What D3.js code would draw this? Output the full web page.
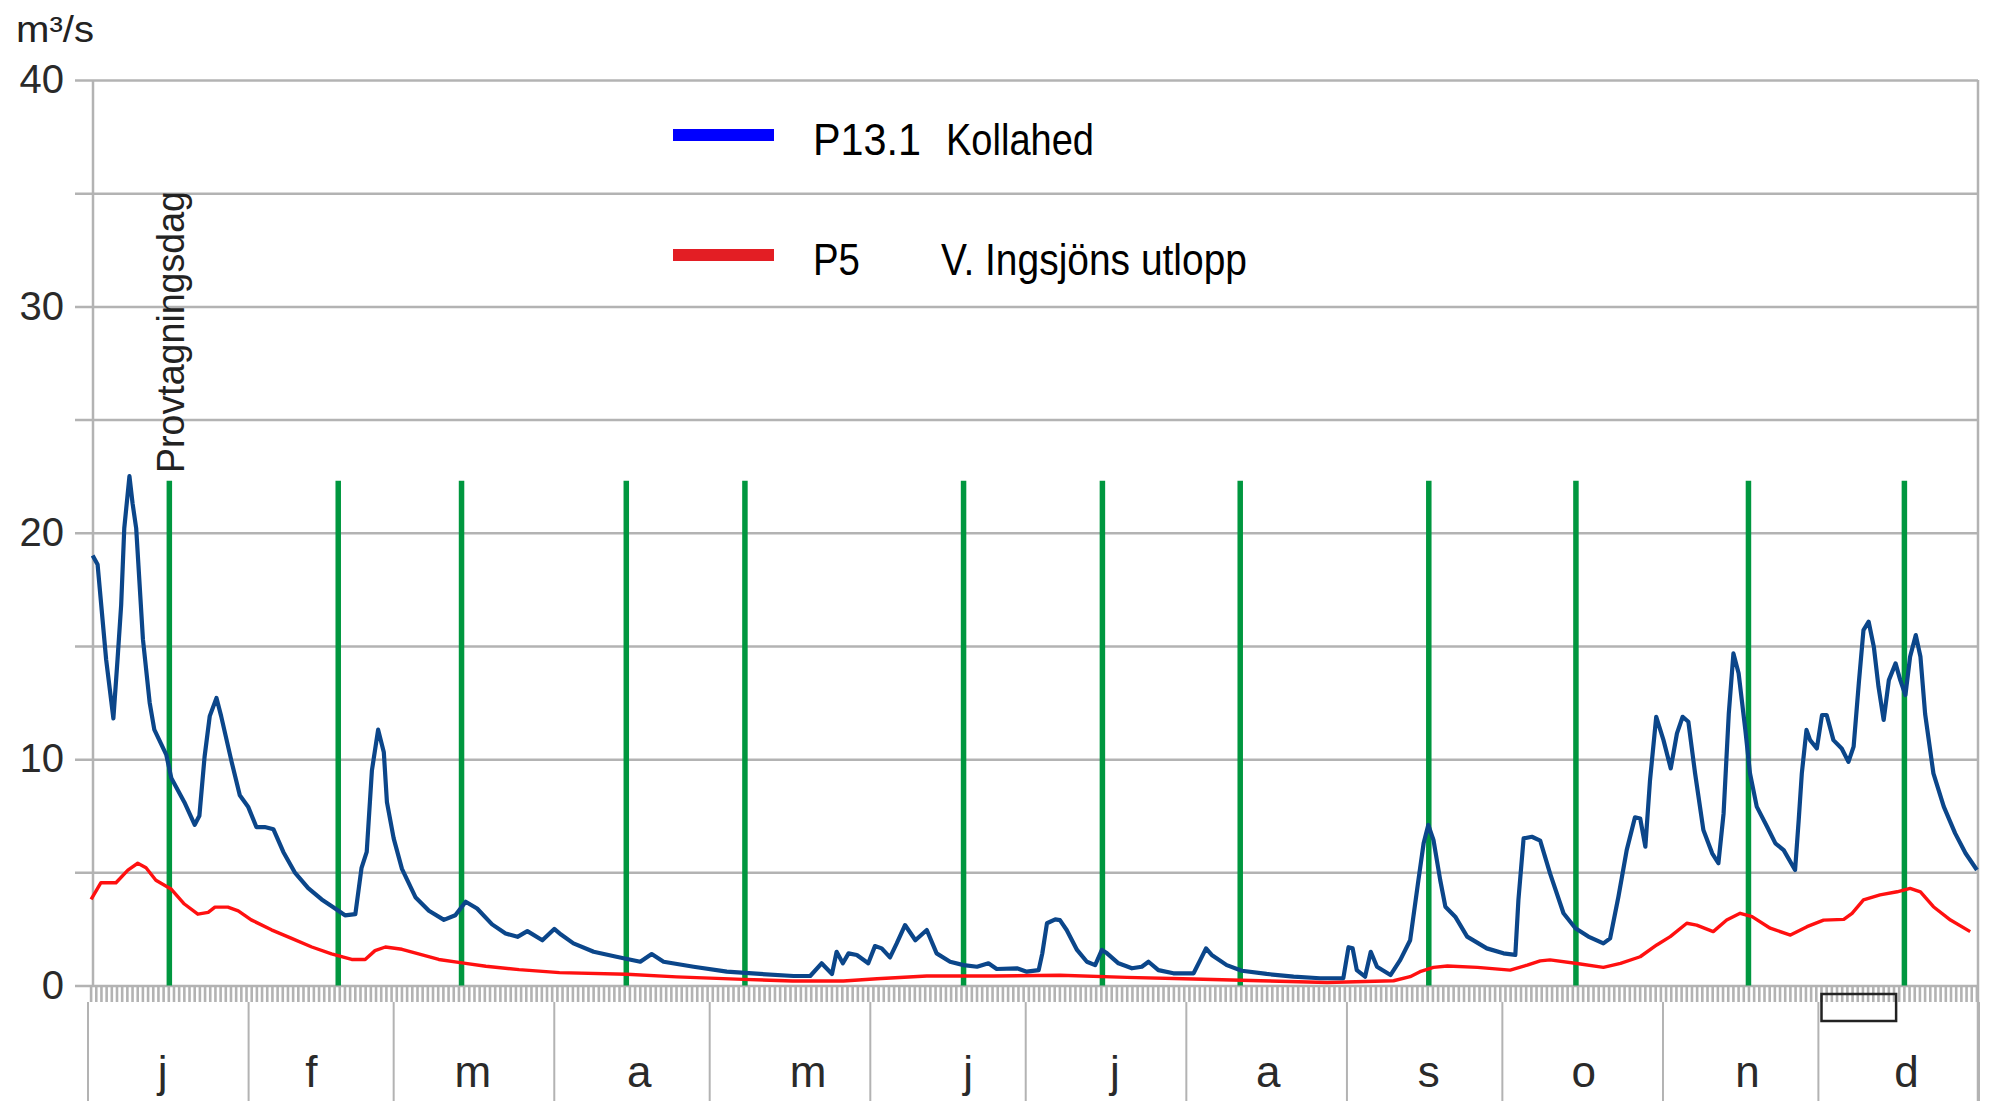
<!DOCTYPE html>
<html><head><meta charset="utf-8">
<script src="https://cdn.jsdelivr.net/npm/d3@7"></script>
<style>html,body{margin:0;padding:0;background:#fff;} svg{display:block;}</style>
</head><body>
<svg id="chart" width="1993" height="1101"></svg>
<script>
// ---------------- data ----------------
const months = ["j","f","m","a","m","j","j","a","s","o","n","d"];
const monthStartDays = [0,31,59,90,120,151,181,212,243,273,304,334,365];
const monthLabelDays = [14.4,43.1,74.3,106.4,139.0,169.9,198.2,227.8,258.8,288.7,320.3,351.0];
const yTicks = [0,5,10,15,20,25,30,35,40];
const yLabels = [0,10,20,30,40];
const unitLabel = "m³/s";
const samplingLabel = "Provtagningsdag";
const samplingDays = [15.7,48.3,72.1,103.9,126.8,169,195.8,222.4,258.8,287.2,320.5,350.6];
const samplingTop = 22.3;
const markerBoxDays = [334.6, 349];
const seriesCodes = ["P13.1","P5"];
const seriesPlaces = ["Kollahed","V. Ingsjöns utlopp"];

// P13.1 Kollahed, [day of year, m3/s]
const kollahedFlow = [
[0.9,19.0],[1.85,18.6],[3.5,14.4],[4.9,11.8],[5.7,14.4],[6.4,16.8],[7.0,20.2],[8.0,22.5],[8.6,21.3],[9.3,20.2],
[10.6,15.3],[11.9,12.5],[12.8,11.3],[15.1,10.2],[16.1,9.15],[18.6,8.1],[20.6,7.1],[21.5,7.5],[22.5,10.1],[23.5,11.9],
[24.8,12.7],[25.7,11.9],[27.7,9.9],[29.3,8.4],[30.9,7.9],[32.5,7.0],[34.1,7.0],[35.8,6.9],[37.7,5.9],[39.9,5.0],
[42.5,4.3],[45.1,3.8],[47.7,3.4],[49.6,3.1],[51.6,3.15],[52.8,5.2],[53.8,5.9],[54.8,9.5],[56.0,11.3],[57.1,10.3],
[57.7,8.1],[59.0,6.5],[60.6,5.15],[63.2,3.9],[65.8,3.3],[68.7,2.9],[70.9,3.1],[72.9,3.7],[75.1,3.4],[78.0,2.7],
[80.6,2.3],[82.9,2.15],[84.8,2.4],[87.7,2.0],[90.0,2.5],[91.3,2.25],[93.7,1.86],[97.6,1.49],[102,1.27],[106.6,1.05],
[108.8,1.39],[111.1,1.05],[116.9,0.83],[123.3,0.61],[129.7,0.51],[136.2,0.42],[139.4,0.42],[141.6,0.98],[143.6,0.51],[144.5,1.49],
[145.7,0.98],[146.8,1.42],[148.4,1.35],[150.6,0.98],[151.9,1.74],[153.2,1.64],[154.8,1.24],[156.1,1.86],[157.7,2.67],[159.7,2.0],
[161.9,2.45],[163.8,1.42],[166.4,1.05],[169,0.9],[171.6,0.83],[173.8,0.98],[175.4,0.73],[179.3,0.76],[181.2,0.61],[183.5,0.68],
[184.2,1.42],[185.1,2.75],[186.7,2.92],[187.6,2.89],[188.9,2.45],[190.9,1.57],[192.8,1.05],[194.4,0.9],[195.7,1.57],[196.7,1.42],
[198.9,0.98],[201.5,0.76],[203.4,0.83],[204.7,1.05],[206.6,0.68],[209.5,0.54],[213.4,0.54],[214.7,1.13],[215.8,1.64],[216.9,1.35],
[219.8,0.9],[222.7,0.65],[227.5,0.51],[232.7,0.39],[237.8,0.32],[242.3,0.32],[243.3,1.69],[244.1,1.64],[244.9,0.68],[246.5,0.39],
[247.6,1.49],[248.8,0.83],[251.4,0.46],[253.3,1.13],[255.2,2.0],[256.8,4.66],[257.8,6.28],[258.7,7.09],[259.7,6.43],[261,4.66],
[262,3.48],[263.9,3.04],[266.2,2.16],[270,1.64],[273.2,1.42],[275.5,1.35],[276.1,3.78],[277.1,6.5],[278.7,6.57],[280.3,6.4],
[282.2,4.95],[284.8,3.19],[287.1,2.53],[289.6,2.16],[292.5,1.86],[293.8,2.08],[295.4,3.92],[297,5.98],[298.6,7.43],[299.6,7.38],
[300.6,6.13],[301.5,9.07],[302.7,11.87],[304.1,10.84],[305.5,9.59],[306.7,11.14],[307.8,11.87],[308.9,11.65],[310.2,9.37],[311.8,6.87],
[313.5,5.84],[314.7,5.4],[315.7,7.6],[316.7,12.0],[317.6,14.67],[318.6,13.79],[319.9,11.29],[320.8,9.37],[322.1,7.9],[324.1,7.01],
[325.7,6.28],[327.3,5.98],[329.5,5.1],[330.2,7.31],[330.8,9.37],[331.7,11.29],[332.4,10.84],[333.7,10.47],[334.7,11.95],[335.6,11.95],
[336.9,10.84],[338.5,10.47],[339.8,9.88],[340.8,10.55],[341.8,13.35],[342.7,15.7],[343.7,16.07],[344.7,14.96],[345.6,13.2],[346.6,11.73],
[347.6,13.49],[348.9,14.23],[349.8,13.49],[350.8,12.83],[351.7,14.52],[352.8,15.48],[353.7,14.52],[354.6,12.0],[356.2,9.37],[358.2,7.9],
[360.4,6.72],[362.4,5.84],[364.6,5.1]
];

// P5 V. Ingsjöns utlopp, [day of year, m3/s]
const ingsjonFlow = [
[0.6,3.8],[2.5,4.54],[5.4,4.54],[7.7,5.1],[9.6,5.4],[11.2,5.2],[13.1,4.65],[16.1,4.25],[18.6,3.6],[21.2,3.15],
[23.2,3.23],[24.5,3.46],[27,3.46],[29,3.3],[31.5,2.9],[35.4,2.46],[39.3,2.08],[43.2,1.7],[47,1.4],[50.9,1.15],
[53.5,1.15],[55.4,1.54],[57.4,1.7],[60.6,1.6],[63.8,1.4],[67.7,1.15],[72.2,1.0],[76.8,0.85],[83.2,0.7],[91,0.57],
[104,0.5],[113.6,0.38],[126.5,0.27],[136,0.2],[145.8,0.2],[152.3,0.3],[161.9,0.42],[174.8,0.42],[187.6,0.45],[200.5,0.36],
[213.4,0.29],[226.3,0.21],[239.2,0.13],[252,0.21],[255.2,0.39],[257.1,0.61],[259.7,0.8],[262.4,0.86],[268.2,0.8],[274.5,0.68],
[277.8,0.9],[280.3,1.09],[282.2,1.13],[287.4,0.97],[292.5,0.8],[295.8,0.98],[299.6,1.27],[302.8,1.79],[305.4,2.16],[308.6,2.75],
[310.5,2.67],[313.7,2.38],[316.3,2.89],[318.9,3.19],[321.2,3.04],[324.7,2.53],[328.6,2.23],[331.8,2.6],[335,2.89],[338.9,2.92],
[340.5,3.19],[342.7,3.78],[345.9,4.0],[349.2,4.14],[351.7,4.29],[353.7,4.14],[356.2,3.48],[359.5,2.89],[363.3,2.38]
];

// ---------------- chart ----------------
const svg = d3.select("#chart");
svg.append("rect").attr("width",1993).attr("height",1101).attr("fill","#fff");

const x = d3.scaleLinear().domain([0,365]).range([88,1979]);
const y = d3.scaleLinear().domain([0,40]).range([985.5,80]);
const GRID = "#b3b3b3";
const FONT = "'Liberation Sans', Arial, sans-serif";

// horizontal gridlines + y labels
const plotRight = 1978, gridLeft = 75;
const yAxis = svg.append("g").attr("transform",`translate(${plotRight},0)`)
  .call(d3.axisLeft(y).tickValues(yTicks).tickSize(plotRight-gridLeft).tickPadding(11)
     .tickFormat(d => yLabels.includes(d) ? String(d) : ""));
yAxis.select(".domain").remove();
yAxis.selectAll(".tick line").attr("stroke",GRID).attr("stroke-width",2.5);
yAxis.selectAll(".tick text").attr("font-family",FONT).attr("font-size",40).attr("fill","#2a2a2a");

// frame verticals
svg.append("line").attr("x1",93).attr("x2",93).attr("y1",y(40)).attr("y2",y(0))
  .attr("stroke",GRID).attr("stroke-width",2.5);
svg.append("line").attr("x1",plotRight).attr("x2",plotRight).attr("y1",y(40)).attr("y2",1101)
  .attr("stroke",GRID).attr("stroke-width",2.5);

// daily ticks below the axis
const xAxis = svg.append("g").attr("transform",`translate(0,${y(0)})`)
  .call(d3.axisBottom(x).tickValues(d3.range(0.5,365,1)).tickSize(16.5).tickFormat(""));
xAxis.select(".domain").remove();
xAxis.selectAll(".tick line").attr("stroke",GRID).attr("stroke-width",2.6);

// month dividers
svg.append("g").selectAll("line").data(monthStartDays).join("line")
  .attr("x1",d=>x(d)).attr("x2",d=>x(d)).attr("y1",1002).attr("y2",1101)
  .attr("stroke",GRID).attr("stroke-width",2);

// month labels
svg.append("g").selectAll("text").data(months).join("text")
  .attr("x",(d,i)=>x(monthLabelDays[i]))
  .attr("y",1087).attr("text-anchor","middle")
  .attr("font-family",FONT).attr("font-size",44).attr("fill","#2a2a2a").text(d=>d);

// marker box
svg.append("rect").attr("x",x(markerBoxDays[0])).attr("y",994)
  .attr("width",x(markerBoxDays[1])-x(markerBoxDays[0])).attr("height",27)
  .attr("fill","none").attr("stroke","#222").attr("stroke-width",2.5);

// sampling-day green lines
svg.append("g").selectAll("line").data(samplingDays).join("line")
  .attr("x1",d=>x(d)).attr("x2",d=>x(d)).attr("y1",y(samplingTop)).attr("y2",y(0))
  .attr("stroke","#00973f").attr("stroke-width",5.5);

// series lines
const line = d3.line().x(d=>x(d[0])).y(d=>y(d[1]));
svg.append("path").datum(ingsjonFlow).attr("d",line)
  .attr("fill","none").attr("stroke","#ff1010").attr("stroke-width",3.4).attr("stroke-linejoin","round");
svg.append("path").datum(kollahedFlow).attr("d",line)
  .attr("fill","none").attr("stroke","#0b468a").attr("stroke-width",4.2).attr("stroke-linejoin","round");

// unit label
svg.append("text").attr("x",16).attr("y",42).attr("font-family",FONT).attr("font-size",36)
  .attr("fill","#222").attr("textLength",78).attr("lengthAdjust","spacingAndGlyphs").text(unitLabel);

// sampling label (rotated)
svg.append("text").attr("transform",`translate(${x(samplingDays[0])+15},473) rotate(-90)`)
  .attr("font-family",FONT).attr("font-size",39).attr("fill","#222")
  .attr("textLength",282).attr("lengthAdjust","spacingAndGlyphs").text(samplingLabel);

// legend
const legendColors = ["#0000ff","#e31e24"];
const legendRows = [155, 275];
const codeWidths = [108, 47];
const placeWidths = [148, 306];
const placeX = [946, 941];
legendRows.forEach((by,i)=>{
  svg.append("rect").attr("x",673).attr("y",by-26).attr("width",101).attr("height",12).attr("fill",legendColors[i]);
  svg.append("text").attr("x",813).attr("y",by).attr("font-family",FONT).attr("font-size",44).attr("fill","#000")
    .attr("textLength",codeWidths[i]).attr("lengthAdjust","spacingAndGlyphs").text(seriesCodes[i]);
  svg.append("text").attr("x",placeX[i]).attr("y",by).attr("font-family",FONT).attr("font-size",44).attr("fill","#000")
    .attr("textLength",placeWidths[i]).attr("lengthAdjust","spacingAndGlyphs").text(seriesPlaces[i]);
});
</script>
</body></html>
